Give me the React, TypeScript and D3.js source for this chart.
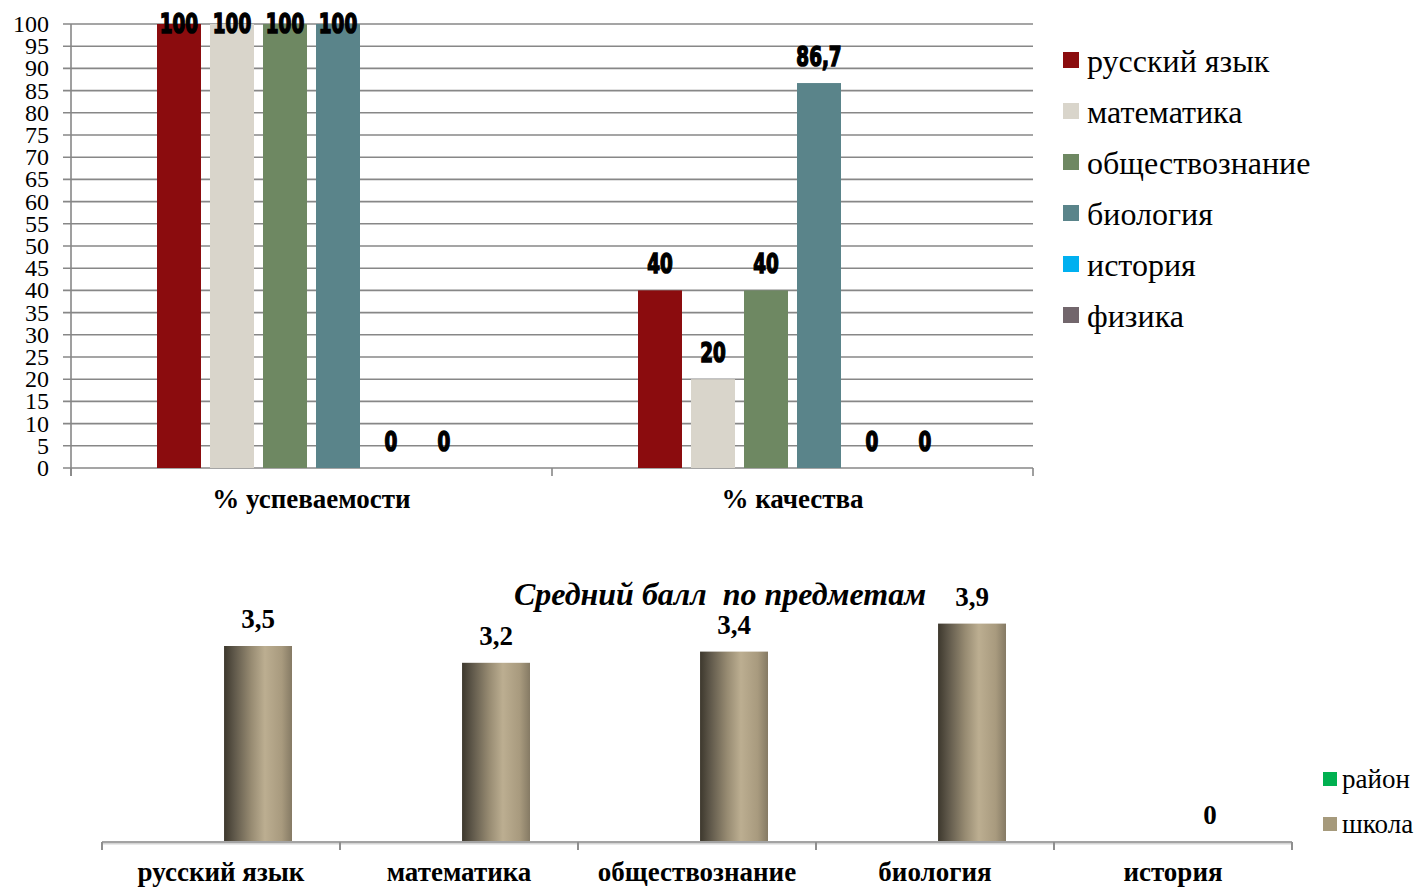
import React from 'react';
import * as d3 from 'd3';

// top chart: % успеваемости / % качества by subject
const groups = ['% успеваемости', '% качества'];
const subjects = ['русский язык', 'математика', 'обществознание', 'биология', 'история', 'физика'];
const subjectColors = ['#8B0C0E', '#D9D5CB', '#6E8862', '#5A848A', '#00B0F0', '#72666C'];
const progressValues = [100, 100, 100, 100, 0, 0];
const qualityValues = [40, 20, 40, 86.7, 0, 0];
const yTicks = d3.range(0, 101, 5);

// bottom chart: average score by subject
const scoreSubjects = ['русский язык', 'математика', 'обществознание', 'биология', 'история'];
const scoreSeries = ['район', 'школа'];
const scoreSeriesColors = ['#00B050', '#A69A7C'];
const districtScores = [0, 0, 0, 0, 0];
const schoolScores = [3.5, 3.2, 3.4, 3.9, 0];

const SERIF = "'Liberation Serif', 'Times New Roman', Tinos, serif";
const fmt = (v: number) => String(v).replace('.', ',');

const TopChart: React.FC = () => {
  const y = d3.scaleLinear().domain([0, 100]).range([468, 24]);
  const x0 = d3.scaleBand<string>().domain(groups).range([71, 1033]);
  const x1 = d3.scaleBand<string>().domain(subjects).range([86, 395]).paddingInner(0.17);
  const rows = [progressValues, qualityValues];

  return (
    <g>
      {/* grid */}
      {yTicks.map(t => (
        <line key={t} x1={63} x2={1033} y1={y(t)} y2={y(t)} stroke="#878787" strokeWidth={1.6} />
      ))}
      <line x1={71} x2={71} y1={y(100)} y2={476} stroke="#878787" strokeWidth={1.6} />
      {[...groups.map(g => x0(g)!), 1033].map((x, i) => (
        <line key={i} x1={x} x2={x} y1={y(0)} y2={476} stroke="#878787" strokeWidth={1.6} />
      ))}
      {yTicks.map(t => (
        <text key={t} x={49} y={y(t) + 8} textAnchor="end" fontFamily={SERIF} fontSize={24} fill="#000">
          {t}
        </text>
      ))}

      {groups.map((g, gi) => (
        <g key={g} transform={`translate(${x0(g)},0)`}>
          {subjects.map((s, si) => {
            const v = rows[gi][si];
            return (
              <rect key={s} x={x1(s)} y={y(v)} width={x1.bandwidth()} height={y(0) - y(v)} fill={subjectColors[si]} />
            );
          })}
          {subjects.map((s, si) => {
            const v = rows[gi][si];
            const cx = x1(s)! + x1.bandwidth() / 2;
            const cy = Math.max(y(v) - 17, 33);
            return (
              <text key={s} transform={`translate(${cx},${cy}) scale(0.68,1)`} textAnchor="middle"
                fontFamily="'DejaVu Sans', sans-serif" fontWeight="bold"
                fontSize={27} fill="#000" stroke="#000" strokeWidth={1.6}>
                {fmt(v)}
              </text>
            );
          })}
          <text x={x0.bandwidth() / 2} y={508} textAnchor="middle" fontFamily={SERIF}
            fontWeight="bold" fontSize={27} fill="#000">
            {g}
          </text>
        </g>
      ))}

      {/* legend */}
      {subjects.map((s, i) => (
        <g key={s} transform={`translate(1063,${52 + i * 51})`}>
          <rect width={16} height={16} fill={subjectColors[i]} />
          <text x={24} y={20} fontFamily={SERIF} fontSize={32} fill="#000">{s}</text>
        </g>
      ))}
    </g>
  );
};

const BottomChart: React.FC = () => {
  const x = d3.scaleBand<string>().domain(scoreSubjects).range([102, 1292]);
  const x1 = d3.scaleBand<string>().domain(scoreSeries).range([52, 190]).paddingInner(0.03);
  const y = d3.scaleLinear().domain([0, 4.5]).range([842, 590]);
  const series = [districtScores, schoolScores];
  const edges = [...scoreSubjects.map(s => x(s)!), 1292];

  return (
    <g>
      <defs>
        <linearGradient id="cyl" x1="0" x2="1" y1="0" y2="0">
          <stop offset="0%" stopColor="#3d382d" />
          <stop offset="15%" stopColor="#5f584a" />
          <stop offset="40%" stopColor="#978b72" />
          <stop offset="60%" stopColor="#bcae91" />
          <stop offset="85%" stopColor="#a89a7e" />
          <stop offset="100%" stopColor="#857a64" />
        </linearGradient>
      </defs>
      <text x={720} y={605} textAnchor="middle" fontFamily={SERIF} fontWeight="bold"
        fontStyle="italic" fontSize={32} fill="#000" xmlSpace="preserve">
        Средний балл  по предметам
      </text>

      {scoreSubjects.map((s, si) => (
        <g key={s} transform={`translate(${x(s)},0)`}>
          {scoreSeries.map((ser, k) => {
            const v = series[k][si];
            return v > 0 ? (
              <rect key={ser} x={x1(ser)} y={y(v)} width={x1.bandwidth()} height={y(0) - y(v)}
                fill={k === 1 ? 'url(#cyl)' : scoreSeriesColors[k]} />
            ) : null;
          })}
          <text x={x1('школа')! + x1.bandwidth() / 2} y={y(schoolScores[si]) - 18} textAnchor="middle"
            fontFamily={SERIF} fontWeight="bold" fontSize={27} fill="#000">
            {fmt(schoolScores[si])}
          </text>
          <text x={x.bandwidth() / 2} y={881} textAnchor="middle" fontFamily={SERIF}
            fontWeight="bold" fontSize={27} fill="#000">
            {s}
          </text>
        </g>
      ))}

      <line x1={102} x2={1292} y1={y(0) + 1.5} y2={y(0) + 1.5} stroke="#d4d4d4" strokeWidth={2} />
      <line x1={102} x2={1292} y1={y(0)} y2={y(0)} stroke="#a3a3a3" strokeWidth={2.2} />
      {edges.map((e, i) => (
        <line key={i} x1={e} x2={e} y1={y(0)} y2={850} stroke="#8f8f8f" strokeWidth={2} />
      ))}

      {scoreSeries.map((ser, i) => (
        <g key={ser} transform={`translate(1323,${772 + i * 45})`}>
          <rect width={14} height={14} fill={scoreSeriesColors[i]} />
          <text x={19} y={16} fontFamily={SERIF} fontSize={27} fill="#000">{ser}</text>
        </g>
      ))}
    </g>
  );
};

const App: React.FC = () => (
  <svg width={1416} height={887} style={{ position: 'absolute', left: 0, top: 0, background: '#fff' }}>
    <rect width={1416} height={887} fill="#fff" />
    <TopChart />
    <BottomChart />
  </svg>
);

export default App;
